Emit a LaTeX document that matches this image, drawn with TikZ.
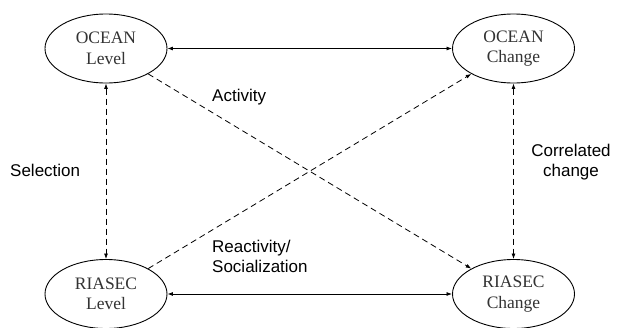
\documentclass[tikz,border=0pt]{standalone}
\usepackage{fontspec}
\setmainfont{Liberation Serif}
\setsansfont{Liberation Sans}
\usetikzlibrary{shapes.geometric,arrows.meta}
\tikzset{
  construct/.style={ellipse,draw,line width=0.9pt,minimum width=122pt,minimum height=69pt,
    inner sep=0pt,align=center,text=black!80,font=\fontsize{17.5}{20.5}\selectfont},
  pathlabel/.style={inner sep=0pt,font=\sffamily\fontsize{17}{20.5}\selectfont},
  tip/.style={-{Latex[length=5.5pt,width=4pt]}},
  tips/.style={{Latex[length=5.5pt,width=4pt]}-{Latex[length=5.5pt,width=4pt]}},
  solidlink/.style={line width=0.8pt},
  dashlink/.style={line width=0.8pt,dash pattern=on 6pt off 4pt}
}
\begin{document}
\begin{tikzpicture}[x=1pt,y=-1pt]
  \useasboundingbox (0,0) rectangle (618,327);
  \clip (0,0) rectangle (618,327);
  \fill[white] (0,0) rectangle (618,327);

  % the four constructs
  \node[construct] (ol) at (106,48.5) {OCEAN\\Level};
  \node[construct] (oc) at (513.5,48.5) {OCEAN\\Change};
  \node[construct] (rl) at (106,294) {RIASEC\\Level};
  \node[construct] (rc) at (513.5,294) {RIASEC\\Change};

  % cross-sectional and change correlations
  \draw[solidlink,tips] (ol) -- (oc);
  \draw[solidlink,tips] (rl) -- (rc);
  \draw[dashlink,tips] (ol) -- (rl);
  \draw[dashlink,tips] (oc) -- (rc);

  % cross-lagged paths
  \draw[dashlink,tip] (ol) -- (rc);
  \draw[dashlink,tip] (rl) -- (oc);

  % path labels
  \node[pathlabel,anchor=west] (act) at (212,97) {Activity};
  \node[pathlabel,anchor=west] (sel) at (10,170) {Selection};
  \node[pathlabel,align=center] (cor) at (571,162) {Correlated\\change};
  \node[pathlabel,anchor=west,align=left] (rea) at (212,256.5) {Reactivity/\\Socialization};
\end{tikzpicture}
\end{document}
